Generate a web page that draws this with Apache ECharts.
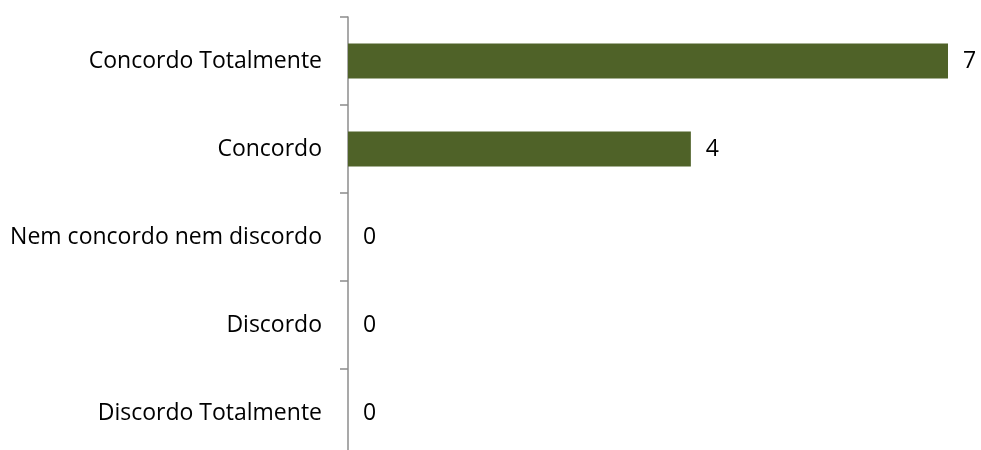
<!DOCTYPE html>
<html>
<head>
<meta charset="utf-8">
<script src="https://cdn.jsdelivr.net/npm/echarts@6/dist/echarts.min.js"></script>
<style>
  html, body { margin: 0; padding: 0; background: #ffffff; overflow: hidden; }
  #chart { width: 981px; height: 462px; }
</style>
</head>
<body>
<div id="chart"></div>
<script>
// Survey answers (bottom to top on the category axis)
const categories = [
  'Discordo Totalmente',
  'Discordo',
  'Nem concordo nem discordo',
  'Concordo',
  'Concordo Totalmente'
];
const counts = [0, 0, 0, 4, 7];

const chart = echarts.init(document.getElementById('chart'), null, { renderer: 'canvas' });

chart.setOption({
  animation: false,
  backgroundColor: '#ffffff',
  grid: { left: 348, right: 33, top: 17, bottom: 5 },
  xAxis: {
    type: 'value',
    min: 0,
    max: 7,
    show: false
  },
  yAxis: {
    type: 'category',
    data: categories,
    axisLine: { show: true, lineStyle: { color: '#8c8c8c', width: 1.5 } },
    axisTick: { show: true, length: 8, alignWithLabel: false, lineStyle: { color: '#8c8c8c', width: 1.5 } },
    axisLabel: {
      margin: 26,
      color: '#000000',
      fontFamily: 'Open Sans',
      fontSize: 23
    },
    splitLine: { show: false }
  },
  series: [{
    type: 'bar',
    data: counts,
    barWidth: 35,
    itemStyle: { color: '#4f6228' },
    label: {
      show: true,
      position: 'right',
      distance: 15,
      color: '#000000',
      fontFamily: 'Open Sans',
      fontSize: 23
    }
  }]
});
</script>
</body>
</html>
